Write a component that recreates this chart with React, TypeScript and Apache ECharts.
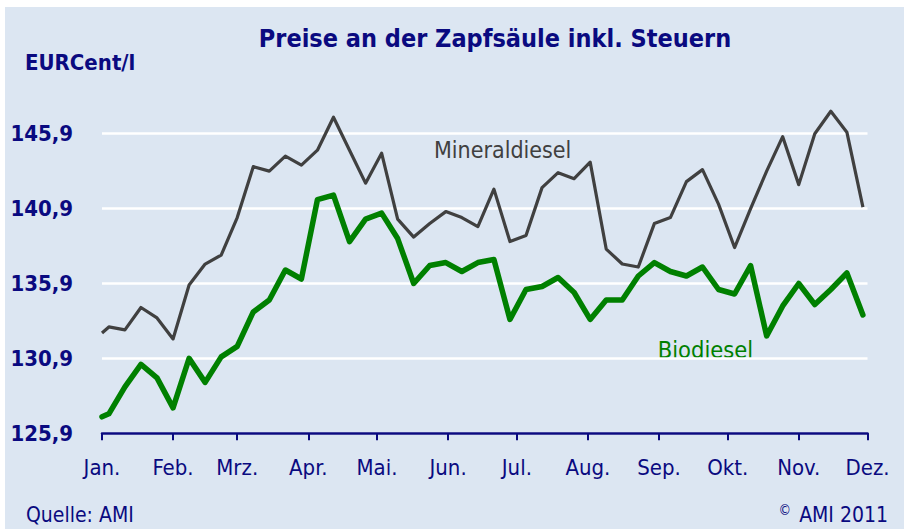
import React, { useEffect, useRef } from 'react';
import * as echarts from 'echarts';

// Month axis (2011): labels and their day offsets from 1 January
const monthLabels = ['Jan.', 'Feb.', 'Mrz.', 'Apr.', 'Mai.', 'Jun.', 'Jul.', 'Aug.', 'Sep.', 'Okt.', 'Nov.', 'Dez.'];
const monthStartDays = [0, 31, 59, 90, 120, 151, 181, 212, 243, 273, 304, 334];

// Weekly observation days (offset from 1 January 2011)
const weekDays = [
  0, 3, 10, 17, 24, 31, 38, 45, 52, 59, 66, 73, 80, 87, 94, 101, 108, 115, 122, 129,
  136, 143, 150, 157, 164, 171, 178, 185, 192, 199, 206, 213, 220, 227, 234, 241, 248,
  255, 262, 269, 276, 283, 290, 297, 304, 311, 318, 325, 332,
];

// EURCent/l
const mineraldiesel = [
  132.6, 133.0, 132.8, 134.3, 133.6, 132.2, 135.8, 137.2, 137.8, 140.3, 143.7, 143.4,
  144.4, 143.8, 144.8, 147.0, 144.8, 142.6, 144.6, 140.2, 139.0, 139.9, 140.7, 140.3,
  139.7, 142.2, 138.7, 139.1, 142.3, 143.3, 142.9, 144.0, 138.2, 137.2, 137.0, 139.9,
  140.3, 142.7, 143.5, 141.2, 138.3, 140.9, 143.4, 145.7, 142.5, 145.9, 147.4, 146.0,
  141.0,
];
const biodiesel = [
  127.0, 127.2, 129.0, 130.5, 129.6, 127.6, 130.9, 129.3, 131.0, 131.7, 134.0, 134.8,
  136.8, 136.2, 141.5, 141.8, 138.7, 140.2, 140.6, 138.9, 135.9, 137.1, 137.3, 136.7,
  137.3, 137.5, 133.5, 135.5, 135.7, 136.3, 135.3, 133.5, 134.8, 134.8, 136.4, 137.3,
  136.7, 136.4, 137.0, 135.5, 135.2, 137.1, 132.4, 134.4, 135.9, 134.5, 135.5, 136.6,
  133.8,
];

const yTicks = [125.9, 130.9, 135.9, 140.9, 145.9];

const FONT = '"DejaVu Sans Condensed", "DejaVu Sans", sans-serif';
const NAVY = '#0a0a80';

export default function App() {
  const ref = useRef<HTMLDivElement>(null);
  useEffect(() => {
    document.body.style.margin = '0';
    const chart = echarts.init(ref.current!, null, { renderer: 'svg' });
    chart.setOption({
      animation: false,
      backgroundColor: '#dce6f2',
      grid: { left: 97, right: 36.5, top: 126.7, bottom: 95.7, containLabel: false },
      xAxis: {
        type: 'value',
        min: 0,
        max: 334,
        axisLine: { show: true, onZero: false, lineStyle: { color: NAVY, width: 2.5 } },
        axisTick: { show: true, customValues: monthStartDays, length: 7, lineStyle: { color: NAVY, width: 2 } },
        axisLabel: {
          customValues: monthStartDays,
          formatter: (v: number) => {
            const i = monthStartDays.indexOf(Math.round(v));
            return i >= 0 ? monthLabels[i] : '';
          },
          color: NAVY,
          fontFamily: FONT,
          fontSize: 22,
          margin: 23,
        },
        splitLine: { show: false },
      },
      yAxis: {
        type: 'value',
        min: 125.9,
        max: 145.9,
        axisLine: { show: false },
        axisTick: { show: false, customValues: yTicks },
        axisLabel: {
          customValues: yTicks,
          formatter: (v: number) => v.toFixed(1).replace('.', ','),
          color: NAVY,
          fontFamily: FONT,
          fontWeight: 'bold',
          fontSize: 22,
          margin: 29,
        },
        splitLine: { show: true, lineStyle: { color: '#ffffff', width: 2.5 } },
      },
      series: [
        {
          name: 'Mineraldiesel',
          type: 'line',
          data: weekDays.map((d, i) => [d, mineraldiesel[i]]),
          symbol: 'none',
          clip: false,
          lineStyle: { color: '#404040', width: 3.2, join: 'round' },
        },
        {
          name: 'Biodiesel',
          type: 'line',
          data: weekDays.map((d, i) => [d, biodiesel[i]]),
          symbol: 'none',
          clip: false,
          lineStyle: { color: '#008000', width: 5.5, join: 'round', cap: 'round' },
        },
      ],
      graphic: [
        {
          type: 'text', x: 490, y: 31.5,
          style: { text: 'Preise an der Zapfsäule inkl. Steuern', fill: NAVY, font: `bold 25px ${FONT}`, align: 'center', verticalAlign: 'middle' },
        },
        {
          type: 'text', x: 20, y: 55.5,
          style: { text: 'EURCent/l', fill: NAVY, font: `bold 22px ${FONT}`, align: 'left', verticalAlign: 'middle' },
        },
        {
          type: 'text', x: 429, y: 143,
          style: { text: 'Mineraldiesel', fill: '#404040', font: `23px ${FONT}`, align: 'left', verticalAlign: 'middle' },
        },
        {
          type: 'text', x: 652.7, y: 342.5,
          style: { text: 'Biodiesel', fill: '#008000', font: `23.5px ${FONT}`, align: 'left', verticalAlign: 'middle' },
        },
        {
          type: 'text', x: 21, y: 508,
          style: { text: 'Quelle: AMI', fill: NAVY, font: `21px ${FONT}`, align: 'left', verticalAlign: 'middle' },
        },
        {
          type: 'text', x: 883, y: 508,
          style: { text: 'AMI 2011', fill: NAVY, font: `21px ${FONT}`, align: 'right', verticalAlign: 'middle' },
        },
        {
          type: 'text', x: 786, y: 503,
          style: { text: '©', fill: NAVY, font: `14px ${FONT}`, align: 'right', verticalAlign: 'middle' },
        },
      ],
    });
    return () => chart.dispose();
  }, []);
  return (
    <div style={{ position: 'absolute', left: 0, top: 0, width: 904, height: 529, background: '#ffffff' }}>
      <div ref={ref} style={{ position: 'absolute', left: 5, top: 7, width: 899, height: 522 }} />
    </div>
  );
}
